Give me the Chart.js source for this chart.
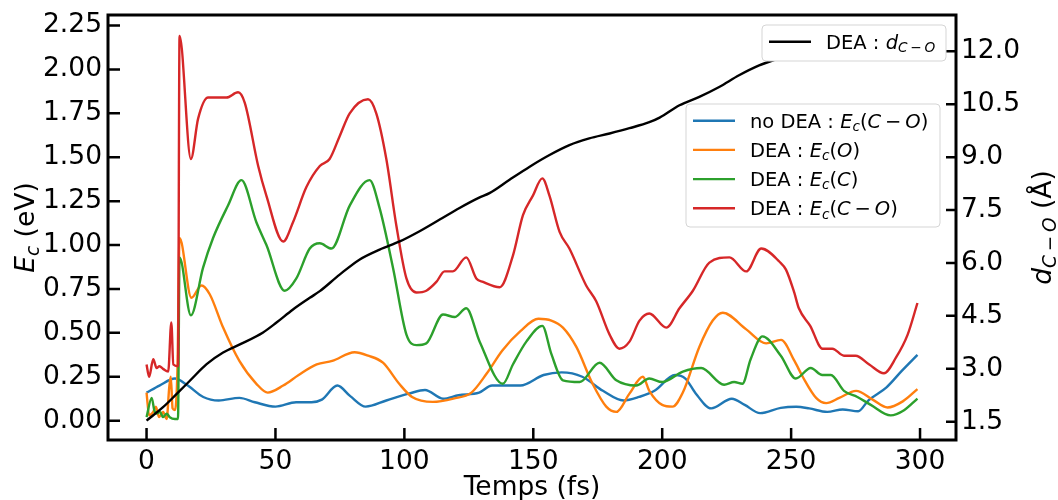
<!DOCTYPE html>
<html>
<head>
<meta charset="utf-8">
<script src="https://cdn.jsdelivr.net/npm/chart.js@4.4.0/dist/chart.umd.min.js"></script>
<style>
  body { margin: 0; background: #fff; overflow: hidden; }
  #wrap { width: 1058px; height: 500px; }
</style>
</head>
<body>
<div id="wrap"><canvas id="graphe"></canvas></div>
<script>
// Énergie cinétique et distance C-O en fonction du temps
const xTicks = [0, 50, 100, 150, 200, 250, 300];
const ecTicks = [0, 0.25, 0.5, 0.75, 1.0, 1.25, 1.5, 1.75, 2.0, 2.25];
const dTicks = [1.5, 3.0, 4.5, 6.0, 7.5, 9.0, 10.5, 12.0];

// no DEA : Ec(C-O)
const tNoDea = [0, 5, 11, 16, 22, 28, 36, 42, 50, 58, 64, 68, 74, 79, 85, 93, 102, 108, 115, 121,
  129, 134, 145, 154, 161, 169, 177, 185, 191, 197, 205, 209, 213, 219, 227, 232, 238, 246, 252, 257,
  264, 270, 276, 280, 287, 293, 299];
const ecNoDea = [0.16, 0.20, 0.24, 0.20, 0.135, 0.115, 0.13, 0.105, 0.08, 0.105, 0.105, 0.12, 0.20, 0.14, 0.08, 0.115, 0.155, 0.175, 0.125, 0.145,
  0.16, 0.20, 0.20, 0.26, 0.275, 0.25, 0.17, 0.115, 0.135, 0.17, 0.26, 0.24, 0.155, 0.07, 0.125, 0.09, 0.043, 0.073, 0.079, 0.07,
  0.05, 0.064, 0.054, 0.116, 0.19, 0.285, 0.375];

// DEA : Ec(O)
const tO = [0, 1, 2.6, 3.6, 4.9, 6.4, 7.8, 8.8, 9.4, 10.1, 11, 12, 12.8, 17.4, 21.3, 24.5, 29.7, 36, 42.6, 47,
  53, 59, 66, 72, 80.7, 86, 91.7, 98, 103, 111, 119, 126, 132, 138, 145, 152, 157, 161.5, 166.7, 173,
  178.3, 182.2, 187.3, 192.5, 195, 200, 204, 208, 214.4, 219.6, 223.5, 232.6, 240.3, 246.1, 251.3, 254.5, 259.7, 263.6, 268.7, 275.2,
  281.6, 287.4, 293.3, 299];
const ecO = [0.16, 0.03, 0.05, 0.08, 0.02, 0.05, 0.01, 0.19, 0.25, 0.07, 0.06, 0.30, 1.04, 0.70, 0.77, 0.72, 0.53, 0.34, 0.21, 0.16,
  0.20, 0.26, 0.32, 0.34, 0.39, 0.37, 0.33, 0.21, 0.135, 0.107, 0.126, 0.16, 0.27, 0.40, 0.51, 0.58, 0.57, 0.53, 0.42, 0.21,
  0.08, 0.05, 0.154, 0.25, 0.17, 0.09, 0.08, 0.16, 0.42, 0.57, 0.615, 0.52, 0.44, 0.46, 0.34, 0.25, 0.13, 0.10, 0.13, 0.17,
  0.12, 0.075, 0.11, 0.18];

// DEA : Ec(C)
const tC = [0, 2, 3, 3.9, 5.2, 6.4, 7.8, 9, 11, 12.2, 12.8, 17.2, 21.9, 25.8, 31.6, 36.8, 42.6, 46.5, 53.6, 58.1,
  63.3, 67.2, 71.7, 78.8, 86.5, 90.4, 95.6, 100.8, 104.7, 108.5, 115, 119.5, 124, 129.2, 138.2, 142.1, 147.3, 153.5, 157, 161.5,
  168, 175.7, 182.2, 189.9, 195, 200, 208, 215.1, 224, 227.9, 231.1, 234.3, 238.9, 246, 251.8, 257.6, 262.1, 265.4, 270.5, 275.7,
  280.9, 288.6, 293.8, 299];
const ecC = [0.02, 0.13, 0.06, 0.04, 0.05, 0.02, 0.04, 0.02, 0.01, 0.01, 0.93, 0.60, 0.87, 1.04, 1.225, 1.37, 1.13, 1.0, 0.74, 0.81,
  0.98, 1.01, 0.98, 1.225, 1.37, 1.21, 0.87, 0.49, 0.43, 0.44, 0.605, 0.59, 0.64, 0.45, 0.21, 0.32, 0.45, 0.54, 0.38, 0.23,
  0.22, 0.33, 0.23, 0.20, 0.24, 0.22, 0.28, 0.30, 0.205, 0.22, 0.21, 0.35, 0.48, 0.37, 0.24, 0.30, 0.26, 0.26, 0.17, 0.135,
  0.09, 0.03, 0.06, 0.126];

// DEA : Ec(C-O)
const tCO = [0, 1, 2.6, 3.9, 5, 6.4, 8.4, 9.6, 10.4, 12.2, 12.8, 17.2, 20, 23.9, 31, 35.5, 38.1, 43.3, 46.5, 53,
  56.8, 62, 67.2, 71, 74.9, 78.8, 85.9, 89.1, 93, 96.9, 100.8, 104.7, 108.5, 112.4, 115.6, 118.8, 124, 127.9, 130.5, 137,
  142.1, 146, 149.8, 153.5, 156.3, 160.2, 164, 170.5, 174.4, 179.6, 183.4, 187.3, 191.2, 195, 201.6, 206.7, 211.9, 218.3, 226.1, 232.6,
  238.4, 245.5, 248, 251.2, 253, 257.4, 262.2, 266, 270.5, 275, 280.3, 286, 290.7, 295.2, 299];
const ecCO = [0.32, 0.25, 0.35, 0.30, 0.31, 0.295, 0.28, 0.56, 0.32, 0.31, 2.19, 1.49, 1.72, 1.84, 1.84, 1.87, 1.81, 1.45, 1.28, 1.02,
  1.13, 1.33, 1.45, 1.49, 1.62, 1.75, 1.83, 1.75, 1.49, 1.11, 0.81, 0.73, 0.74, 0.79, 0.85, 0.85, 0.93, 0.81, 0.79, 0.76,
  0.94, 1.17, 1.28, 1.38, 1.28, 1.075, 0.98, 0.77, 0.68, 0.49, 0.41, 0.45, 0.57, 0.61, 0.53, 0.64, 0.74, 0.90, 0.93, 0.85,
  0.98, 0.905, 0.86, 0.73, 0.64, 0.54, 0.41, 0.41, 0.37, 0.37, 0.32, 0.27, 0.36, 0.49, 0.67];

// DEA : distance C-O (Å)
const tDist = [0, 6.4, 11.6, 16.8, 23.3, 29.7, 36.2, 45.2, 50.4, 56.8, 63.3, 67.2, 74.9, 82.7, 90.4, 98.2, 105.9, 113.7, 121.4, 129.2,
  133, 140.8, 148.6, 156.3, 164, 171.7, 179.6, 187.3, 195, 199, 206.7, 214.4, 222.1, 229.8, 237.6, 245.5, 252, 260, 270, 280,
  290, 299];
const dCO = [1.53, 1.91, 2.28, 2.66, 3.13, 3.46, 3.69, 4.03, 4.31, 4.68, 5.01, 5.2, 5.67, 6.10, 6.38, 6.61, 6.9, 7.23, 7.56, 7.86,
  7.98, 8.36, 8.73, 9.06, 9.34, 9.53, 9.67, 9.82, 9.99, 10.12, 10.47, 10.71, 10.99, 11.32, 11.60, 11.81, 11.97, 12.15, 12.3, 12.4,
  12.45, 12.5];

const FONT = '"DejaVu Sans"';
const TICK_SIZE = 26.5;
const LEG_SIZE = 19.5;

const pts = (ts, vs) => ts.map((t, i) => ({ x: t, y: vs[i] }));

function serie(label, ts, vs, color, axis, order) {
  return {
    label: label, data: pts(ts, vs), borderColor: color, backgroundColor: color,
    borderWidth: 2.4, pointRadius: 0, cubicInterpolationMode: 'monotone',
    yAxisID: axis, order: order
  };
}

// petits morceaux de texte "mathtext" : n normal, i italique, s* indice
function fontFor(st, size) {
  const s = st[0] === 's' ? size * 0.7 : size;
  return (st.endsWith('i') ? 'italic ' : '') + s + 'px ' + FONT;
}
function mathWidth(ctx, parts, size) {
  let w = 0;
  for (const [txt, st] of parts) { ctx.font = fontFor(st, size); w += ctx.measureText(txt).width; }
  return w;
}
function drawMath(ctx, parts, x, y, size) {
  ctx.textAlign = 'left';
  ctx.textBaseline = 'alphabetic';
  for (const [txt, st] of parts) {
    ctx.font = fontFor(st, size);
    ctx.fillText(txt, x, y + (st[0] === 's' ? size * 0.18 : 0));
    x += ctx.measureText(txt).width;
  }
}

const ecCOtxt = [['E', 'i'], ['c', 'si'], ['(', 'n'], ['C', 'i'], ['\u2009\u2212\u2009', 'n'], ['O', 'i'], [')', 'n']];
const leg1 = [{ color: '#000000', parts: [['DEA : ', 'n'], ['d', 'i'], ['C', 'si'], ['\u2009\u2212\u2009', 'sn'], ['O', 'si']] }];
const leg2 = [
  { color: '#1f77b4', parts: [['no DEA : ', 'n']].concat(ecCOtxt) },
  { color: '#ff7f0e', parts: [['DEA : ', 'n'], ['E', 'i'], ['c', 'si'], ['(', 'n'], ['O', 'i'], [')', 'n']] },
  { color: '#2ca02c', parts: [['DEA : ', 'n'], ['E', 'i'], ['c', 'si'], ['(', 'n'], ['C', 'i'], [')', 'n']] },
  { color: '#d62728', parts: [['DEA : ', 'n']].concat(ecCOtxt) }
];

function roundRect(ctx, x, y, w, h, r) {
  ctx.beginPath();
  ctx.moveTo(x + r, y);
  ctx.arcTo(x + w, y, x + w, y + h, r);
  ctx.arcTo(x + w, y + h, x, y + h, r);
  ctx.arcTo(x, y + h, x, y, r);
  ctx.arcTo(x, y, x + w, y, r);
  ctx.closePath();
}

function drawLegend(ctx, items, x, y, w, h, y0, dy) {
  ctx.save();
  roundRect(ctx, x, y, w, h, 4);
  ctx.fillStyle = '#ffffff';
  ctx.fill();
  ctx.strokeStyle = '#d5d5d5';
  ctx.lineWidth = 1;
  ctx.stroke();
  items.forEach((it, i) => {
    const cy = y0 + i * dy;
    ctx.strokeStyle = it.color;
    ctx.lineWidth = 2.4;
    ctx.beginPath();
    ctx.moveTo(x + 7, cy);
    ctx.lineTo(x + 49, cy);
    ctx.stroke();
    ctx.fillStyle = '#000';
    drawMath(ctx, it.parts, x + 64, cy + 6.8, LEG_SIZE);
  });
  ctx.restore();
}

const decor = {
  id: 'decor',
  afterDraw(chart) {
    const ctx = chart.ctx;
    const a = chart.chartArea;
    const sx = chart.scales.x, sy = chart.scales.y, sd = chart.scales.y2;
    ctx.save();
    // ticks vers l'intérieur
    ctx.strokeStyle = '#000';
    ctx.lineWidth = 2.5;
    ctx.beginPath();
    xTicks.forEach(v => { const p = sx.getPixelForValue(v); ctx.moveTo(p, a.bottom); ctx.lineTo(p, a.bottom - 12); });
    ecTicks.forEach(v => { const p = sy.getPixelForValue(v); ctx.moveTo(a.left, p); ctx.lineTo(a.left + 12, p); });
    dTicks.forEach(v => { const p = sd.getPixelForValue(v); ctx.moveTo(a.right, p); ctx.lineTo(a.right - 10, p); });
    ctx.stroke();
    // cadre
    ctx.lineWidth = 3;
    ctx.strokeRect(a.left, a.top, a.right - a.left, a.bottom - a.top);
    // titres des axes
    ctx.fillStyle = '#000';
    ctx.font = TICK_SIZE + 'px ' + FONT;
    ctx.textAlign = 'center';
    ctx.textBaseline = 'alphabetic';
    ctx.fillText('Temps (fs)', (a.left + a.right) / 2, 495);
    const cy = (a.top + a.bottom) / 2;
    const tl = [['E', 'i'], ['c', 'si'], [' (eV)', 'n']];
    ctx.save();
    ctx.translate(34, cy);
    ctx.rotate(-Math.PI / 2);
    drawMath(ctx, tl, -mathWidth(ctx, tl, TICK_SIZE) / 2, 0, TICK_SIZE);
    ctx.restore();
    const tr = [['d', 'i'], ['C', 'si'], ['\u2009\u2212\u2009', 'sn'], ['O', 'si'], [' (\u00c5)', 'n']];
    ctx.save();
    ctx.translate(1051, cy);
    ctx.rotate(-Math.PI / 2);
    drawMath(ctx, tr, -mathWidth(ctx, tr, TICK_SIZE) / 2, 0, TICK_SIZE);
    ctx.restore();
    // légendes
    drawLegend(ctx, leg1, 762, 25, 184, 36, 41.7, 0);
    drawLegend(ctx, leg2, 686, 104, 254, 123, 120.7, 29.2);
    ctx.restore();
  }
};

const tickFont = { family: FONT, size: TICK_SIZE };
const noPad = s => { s.paddingTop = 0; s.paddingBottom = 0; s.paddingLeft = 0; s.paddingRight = 0; };

new Chart(document.getElementById('graphe').getContext('2d'), {
  type: 'line',
  data: {
    datasets: [
      serie('DEA : d(C-O)', tDist, dCO, '#000000', 'y2', 0),
      serie('DEA : Ec(C-O)', tCO, ecCO, '#d62728', 'y', 1),
      serie('DEA : Ec(C)', tC, ecC, '#2ca02c', 'y', 2),
      serie('DEA : Ec(O)', tO, ecO, '#ff7f0e', 'y', 3),
      serie('no DEA : Ec(C-O)', tNoDea, ecNoDea, '#1f77b4', 'y', 4)
    ]
  },
  options: {
    responsive: true,
    maintainAspectRatio: false,
    animation: false,
    layout: { padding: { top: 15, left: 0, right: 0, bottom: 0 } },
    plugins: { legend: { display: false }, tooltip: { enabled: false } },
    scales: {
      x: {
        type: 'linear', min: -14.95, max: 313.95,
        grid: { display: false, drawTicks: false }, border: { display: false },
        ticks: { font: tickFont, color: '#000', padding: 6, maxRotation: 0 },
        afterBuildTicks: s => { s.ticks = xTicks.map(v => ({ value: v })); },
        afterFit: s => { s.height = 60; noPad(s); }
      },
      y: {
        position: 'left', min: -0.11, max: 2.31,
        grid: { display: false, drawTicks: false }, border: { display: false },
        ticks: { font: tickFont, color: '#000', padding: 6, callback: v => v.toFixed(2) },
        afterBuildTicks: s => { s.ticks = ecTicks.map(v => ({ value: v })); },
        afterFit: s => { s.width = 108; noPad(s); }
      },
      y2: {
        position: 'right', min: 0.98, max: 13.03,
        grid: { display: false, drawTicks: false }, border: { display: false },
        ticks: { font: tickFont, color: '#000', padding: 5, callback: v => v.toFixed(1) },
        afterBuildTicks: s => { s.ticks = dTicks.map(v => ({ value: v })); },
        afterFit: s => { s.width = 102; noPad(s); }
      }
    }
  },
  plugins: [decor]
});
</script>
</body>
</html>
